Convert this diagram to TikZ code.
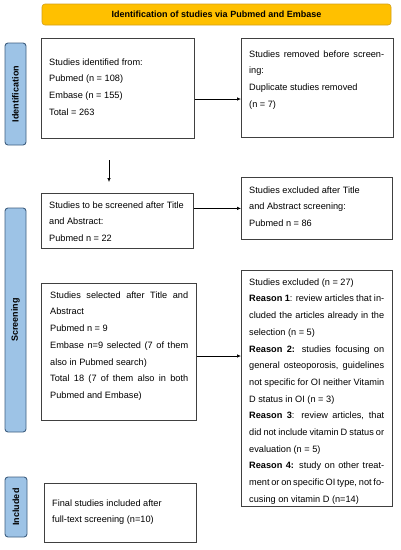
\documentclass[tikz,border=0pt]{standalone}
\usepackage{fontspec}
\setmainfont{Liberation Sans}
\usetikzlibrary{arrows.meta}
\definecolor{bannerfill}{HTML}{FFC000}
\definecolor{bannerdraw}{HTML}{D4A017}
\definecolor{sidefill}{HTML}{9DC3E6}
\definecolor{sidedraw}{HTML}{3F5F80}
\definecolor{boxdraw}{HTML}{404040}
\newcommand\jst[2]{\makebox[#1][s]{#2}}
\newcommand\tstrut{\rule{0pt}{7pt}}
\begin{document}
\begin{tikzpicture}[x=1pt,y=-1pt,
  box/.style={draw=boxdraw, line width=0.8pt, fill=white, inner sep=0pt, anchor=north west},
  txt/.style={font=\fontsize{9.2}{16.7}\selectfont, align=left, inner sep=0pt, anchor=north west},
  side/.style={draw=sidedraw, fill=sidefill, line width=0.9pt, rounded corners=3pt, rotate=90,
    font=\fontsize{9}{11}\selectfont\bfseries, inner sep=0pt},
  banner/.style={draw=bannerdraw, fill=bannerfill, line width=0.6pt, rounded corners=3pt,
    font=\fontsize{9}{11}\selectfont\bfseries, inner sep=0pt},
  arr/.style={-{Latex[length=4pt,width=3.6pt]}, line width=0.7pt, black}]
\useasboundingbox (0,0) rectangle (401,550);
\fill[white] (0,0) rectangle (401,550);

% banner
\node[banner, minimum width=349pt, minimum height=21pt] (banner) at (216.5,14.5)
  {Identification of studies via Pubmed and Embase};

% side labels
\node[side, minimum width=102pt, minimum height=21pt] (lid) at (15.5,94) {Identification};
\node[side, minimum width=224pt, minimum height=21pt] (lsc) at (15.5,320) {Screening};
\node[side, minimum width=60pt, minimum height=22pt] (lin) at (16,507) {Included};

% boxes
\node[box, minimum width=153pt, minimum height=100pt] (b1) at (41,38) {};
\node[box, minimum width=152pt, minimum height=99pt] (b2) at (241,38) {};
\node[box, minimum width=152pt, minimum height=55pt] (b3) at (41,193) {};
\node[box, minimum width=151pt, minimum height=62pt] (b4) at (241,177) {};
\node[box, minimum width=155pt, minimum height=137pt] (b5) at (41,283) {};
\node[box, minimum width=151pt, minimum height=236pt] (b6) at (241,270) {};
\node[box, minimum width=152pt, minimum height=59pt] (b7) at (44,483) {};

% texts (top = first baseline - 7pt)
\node[txt] (t1) at (49,58) {\tstrut Studies identified from:\\Pubmed (n = 108)\\Embase (n = 155)\\Total = 263};
\node[txt] (t2) at (249,50) {\tstrut\jst{135pt}{Studies removed before screen-}\\ing:\\Duplicate studies removed\\(n = 7)};
\node[txt] (t3) at (49,201) {\tstrut Studies to be screened after Title\\and Abstract:\\Pubmed n = 22};
\node[txt] (t4) at (249,186) {\tstrut Studies excluded after Title\\and Abstract screening:\\Pubmed n = 86};
\node[txt] (t5) at (50,291) {\tstrut\jst{138pt}{Studies selected after Title and}\\Abstract\\Pubmed n = 9\\\jst{138pt}{Embase n=9 selected (7 of them}\\also in Pubmed search)\\\jst{138pt}{Total 18 (7 of them also in both}\\Pubmed and Embase)};
\node[txt] (t6) at (249,278) {\tstrut Studies excluded (n = 27)\\
\jst{135pt}{\textbf{Reason 1}: review articles that in-}\\
\jst{135pt}{cluded the articles already in the}\\
selection (n = 5)\\
\jst{135pt}{\textbf{Reason 2:} studies focusing on}\\
\jst{135pt}{general osteoporosis, guidelines}\\
\jst{135pt}{not specific for OI neither Vitamin}\\
D status in OI (n = 3)\\
\jst{135pt}{\textbf{Reason 3}: review articles, that}\\
\jst{135pt}{did not include vitamin D status or}\\
evaluation (n = 5)\\
\jst{135pt}{\textbf{Reason 4:} study on other treat-}\\
\jst{135pt}{ment or on specific OI type, not fo-}\\
cusing on vitamin D (n=14)};
\node[txt] (t7) at (52,499) {\tstrut Final studies included after\\full-text screening (n=10)};

% connectors
\draw[arr] (b1.east |- 0,99) -- (b2.west |- 0,99);
\coordinate (d1) at (109,160);
\coordinate (d2) at (109,182);
\draw[arr] (d1) -- (d2);
\draw[arr] (b3.east |- b4.west) -- (b4.west);
\draw[arr] (b5.east |- 0,356) -- (b6.west |- 0,356);
\end{tikzpicture}
\end{document}
